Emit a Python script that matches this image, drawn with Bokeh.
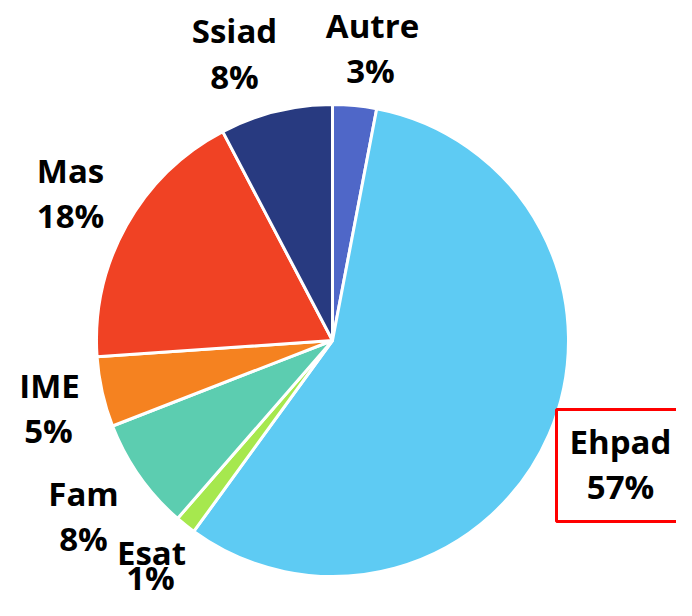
import numpy as np
from bokeh.plotting import figure
from bokeh.models import ColumnDataSource, Range1d
from bokeh.core.properties import value
from bokeh.embed import file_html
from bokeh.resources import INLINE

# ---- data (clockwise from 12 o'clock) ----
categories = ["Autre", "Ehpad", "Esat", "Fam", "IME", "Mas", "Ssiad"]
shares = [3.0, 57.0, 1.4, 7.7, 4.8, 18.4, 7.7]
pct_labels = ["3%", "57%", "1%", "8%", "5%", "18%", "8%"]
colors = ["#4F67C8", "#5ECBF3", "#A6E84E", "#5CCDB0", "#F58220", "#F04224", "#283A80"]

# ---- layout (pixel coords, top-left origin) ----
W, H = 676, 600
def px(X):
    return X
def py(Y):
    return H - Y

CX, CY, R = 332, 340, 236
label_name_pos = [(372, 25), (620, 441), (151, 552), (83, 493), (49, 385), (70, 170), (234, 30)]
label_pct_pos = [(370, 70), (620, 486), (150, 577), (83, 538), (48, 430), (70, 215), (234, 76)]

vals = np.array(shares, dtype=float)
frac = vals / vals.sum()
cum_end = np.cumsum(frac)
cum_start = cum_end - frac
start = np.pi / 2 - cum_start * 2 * np.pi
end = np.pi / 2 - cum_end * 2 * np.pi

src = ColumnDataSource(dict(cat=categories, start=start, end=end, color=colors))

p = figure(width=W, height=H, output_backend="svg", toolbar_location=None,
           x_range=Range1d(0, W), y_range=Range1d(0, H), min_border=0)
p.axis.visible = False
p.grid.visible = False
p.outline_line_color = None
p.background_fill_color = "white"
p.border_fill_color = "white"

p.wedge(x=px(CX), y=py(CY), radius=R, start_angle="start", end_angle="end",
        direction="clock", fill_color="color", line_color="white", line_width=3,
        source=src)

lsrc = ColumnDataSource(dict(
    nx=[px(a) for a, b in label_name_pos], ny=[py(b) for a, b in label_name_pos],
    vx=[px(a) for a, b in label_pct_pos], vy=[py(b) for a, b in label_pct_pos],
    name=categories, pct=pct_labels))

for xc, yc, col in (("nx", "ny", "name"), ("vx", "vy", "pct")):
    p.text(x=xc, y=yc, text=col, source=lsrc, text_align="center",
           text_baseline="middle", text_font=value("Open Sans"),
           text_font_style="bold", text_font_size="33px", text_color="black")

# red highlight box around the Ehpad label
p.quad(left=px(556), right=px(700), top=py(409), bottom=py(521),
       fill_color=None, line_color="#FF0000", line_width=3)

open("out.html", "w").write(file_html(p, INLINE))
